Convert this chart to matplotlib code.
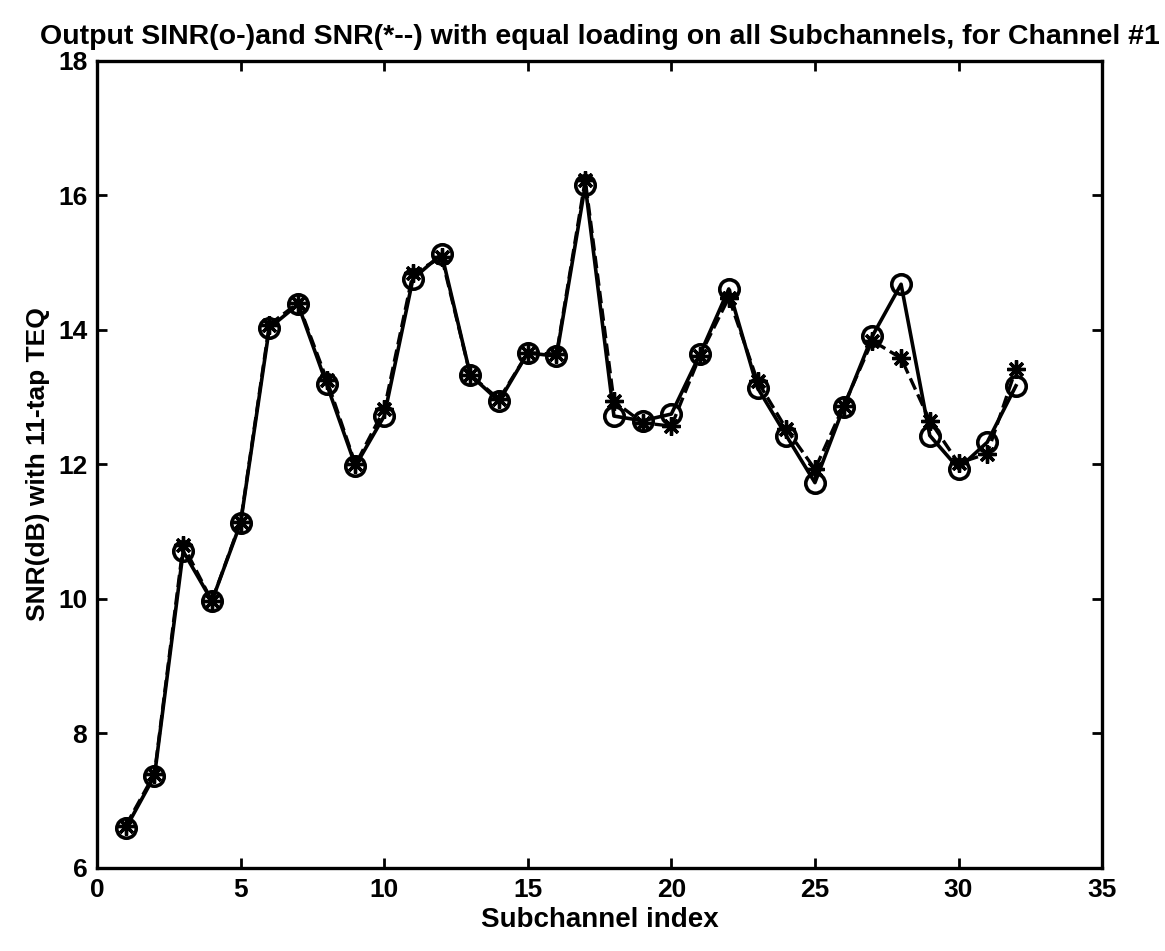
import matplotlib
matplotlib.use("Agg")
import matplotlib.pyplot as plt

subchannel = list(range(1, 33))
sinr = [6.59, 7.37, 10.71, 9.97, 11.13, 14.03, 14.38, 13.19, 11.98, 12.72,
        14.76, 15.13, 13.33, 12.94, 13.66, 13.61, 16.15, 12.72, 12.65, 12.75,
        13.64, 14.61, 13.14, 12.43, 11.73, 12.85, 13.91, 14.68, 12.43, 11.94,
        12.33, 13.17]
snr = [6.63, 7.40, 10.80, 9.97, 11.15, 14.08, 14.40, 13.26, 12.00, 12.82,
       14.84, 15.08, 13.33, 12.97, 13.66, 13.64, 16.23, 12.94, 12.62, 12.57,
       13.62, 14.48, 13.24, 12.53, 11.93, 12.87, 13.84, 13.58, 12.65, 12.02,
       12.16, 13.42]

title_text = "Output SINR(o-)and SNR(*--) with equal loading on all Subchannels, for Channel #1"
xlabel_text = "Subchannel index"
ylabel_text = "SNR(dB) with 11-tap TEQ"
xticks = [0, 5, 10, 15, 20, 25, 30, 35]
yticks = [6, 8, 10, 12, 14, 16, 18]

plt.rcParams['font.family'] = ['Liberation Sans', 'DejaVu Sans']
plt.rcParams['font.weight'] = 'bold'

fig = plt.figure(figsize=(11.65, 9.51), dpi=100)
ax = fig.add_axes([0.0833, 0.0873, 0.8627, 0.8486])

ax.plot(subchannel, snr, linestyle='--', color='black', linewidth=2.4,
        marker=(8, 2, 0), markersize=13, markeredgewidth=2.4)
ax.plot(subchannel, sinr, linestyle='-', color='black', linewidth=2.6,
        marker='o', markersize=14, markerfacecolor='none', markeredgewidth=2.6)

ax.set_xlim(0, 35)
ax.set_ylim(6, 18)
ax.set_xticks(xticks)
ax.set_yticks(yticks)
ax.tick_params(direction='in', length=7, width=2, labelsize=19, pad=7,
               top=True, right=True)
for lbl in ax.get_xticklabels() + ax.get_yticklabels():
    lbl.set_fontweight('bold')
for s in ax.spines.values():
    s.set_linewidth(2.4)

ax.set_title(title_text, fontsize=20.5, fontweight='bold', pad=12)
ax.set_xlabel(xlabel_text, fontsize=20, fontweight='bold', labelpad=4)
ax.set_ylabel(ylabel_text, fontsize=19, fontweight='bold', labelpad=6)

fig.savefig("out.png", dpi=100)
